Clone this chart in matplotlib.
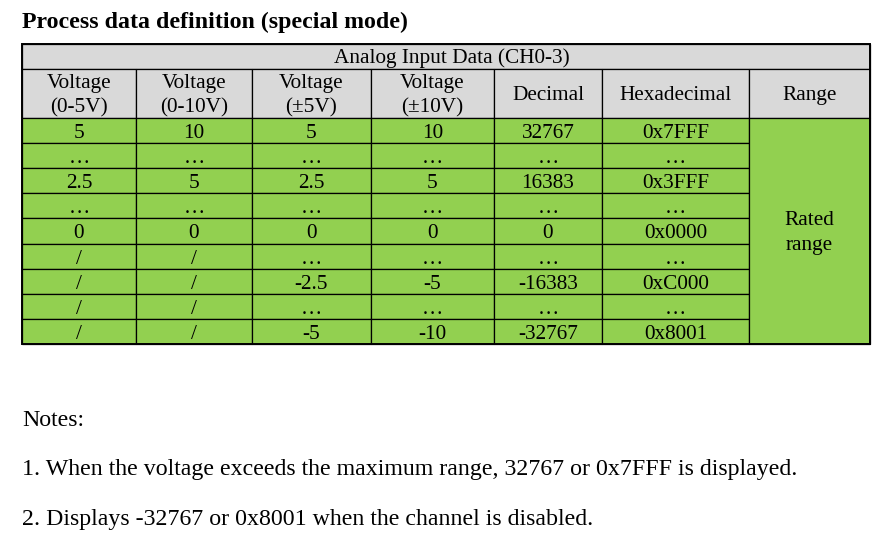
import matplotlib
matplotlib.use("Agg")
import matplotlib.pyplot as plt
from matplotlib.patches import Rectangle

plt.rcParams['font.family'] = ['Liberation Serif', 'DejaVu Serif']

title = "Process data definition (special mode)"
group_header = "Analog Input Data (CH0-3)"
headers = ["Voltage\n(0-5V)", "Voltage\n(0-10V)", "Voltage\n(±5V)", "Voltage\n(±10V)",
           "Decimal", "Hexadecimal", "Range"]
col_0_5 = ["5", "…", "2.5", "…", "0", "/", "/", "/", "/"]
col_0_10 = ["10", "…", "5", "…", "0", "/", "/", "/", "/"]
col_pm5 = ["5", "…", "2.5", "…", "0", "…", "-2.5", "…", "-5"]
col_pm10 = ["10", "…", "5", "…", "0", "…", "-5", "…", "-10"]
col_dec = ["32767", "…", "16383", "…", "0", "…", "-16383", "…", "-32767"]
col_hex = ["0x7FFF", "…", "0x3FFF", "…", "0x0000", "…", "0xC000", "…", "0x8001"]
range_label = "Rated\nrange"
notes = ["Notes:",
         "1. When the voltage exceeds the maximum range, 32767 or 0x7FFF is displayed.",
         "2. Displays -32767 or 0x8001 when the channel is disabled."]

columns = [col_0_5, col_0_10, col_pm5, col_pm10, col_dec, col_hex]

# layout in pixels
col_x = [22, 136, 252, 371, 494, 602, 749, 870]
top, head_top, data_top, row_h = 44, 69, 118, 25.1
n_rows = len(col_0_5)
row_y = [round(data_top + r * row_h) for r in range(n_rows + 1)]
bottom = row_y[-1]

green = "#92D050"
grey = "#D9D9D9"
lw = 0.9
fs = 15.3

fig = plt.figure(figsize=(8.87, 5.53), dpi=100)
ax = fig.add_axes([0, 0, 1, 1])
ax.set_xlim(0, 887)
ax.set_ylim(553, 0)
ax.axis("off")

ax.text(22, 22, title, fontsize=17.2, fontweight="bold", va="center", ha="left")

# group header row
ax.add_patch(Rectangle((col_x[0], top), col_x[-1] - col_x[0], head_top - top,
                       facecolor=grey, edgecolor="black", lw=lw))
ax.text((col_x[0] + col_x[-1]) / 2 + 6, (top + head_top) / 2 + 2, group_header,
        fontsize=fs, ha="center", va="center")

# column headers
for i, h in enumerate(headers):
    ax.add_patch(Rectangle((col_x[i], head_top), col_x[i + 1] - col_x[i], data_top - head_top,
                           facecolor=grey, edgecolor="black", lw=lw))
    ax.text((col_x[i] + col_x[i + 1]) / 2, (head_top + data_top) / 2 + 2, h,
            fontsize=fs, ha="center", va="center", linespacing=1.4)

# data cells
for i, col in enumerate(columns):
    for r, v in enumerate(col):
        y0, y1 = row_y[r], row_y[r + 1]
        ax.add_patch(Rectangle((col_x[i], y0), col_x[i + 1] - col_x[i], y1 - y0,
                               facecolor=green, edgecolor="black", lw=lw))
        ax.text((col_x[i] + col_x[i + 1]) / 2, (y0 + y1) / 2 + 3, v,
                fontsize=fs, ha="center", va="center")

# merged range cell
ax.add_patch(Rectangle((col_x[6], data_top), col_x[7] - col_x[6], bottom - data_top,
                       facecolor=green, edgecolor="black", lw=lw))
ax.text((col_x[6] + col_x[7]) / 2, (data_top + bottom) / 2 + 2, range_label,
        fontsize=fs, ha="center", va="center", linespacing=1.4)

# outer border
ax.add_patch(Rectangle((col_x[0], top), col_x[-1] - col_x[0], bottom - top,
                       facecolor="none", edgecolor="black", lw=1.4))

for y, n in zip([421, 469, 519], notes):
    ax.text(22, y, n, fontsize=17.2, ha="left", va="center")

fig.savefig("out.png", dpi=100)
